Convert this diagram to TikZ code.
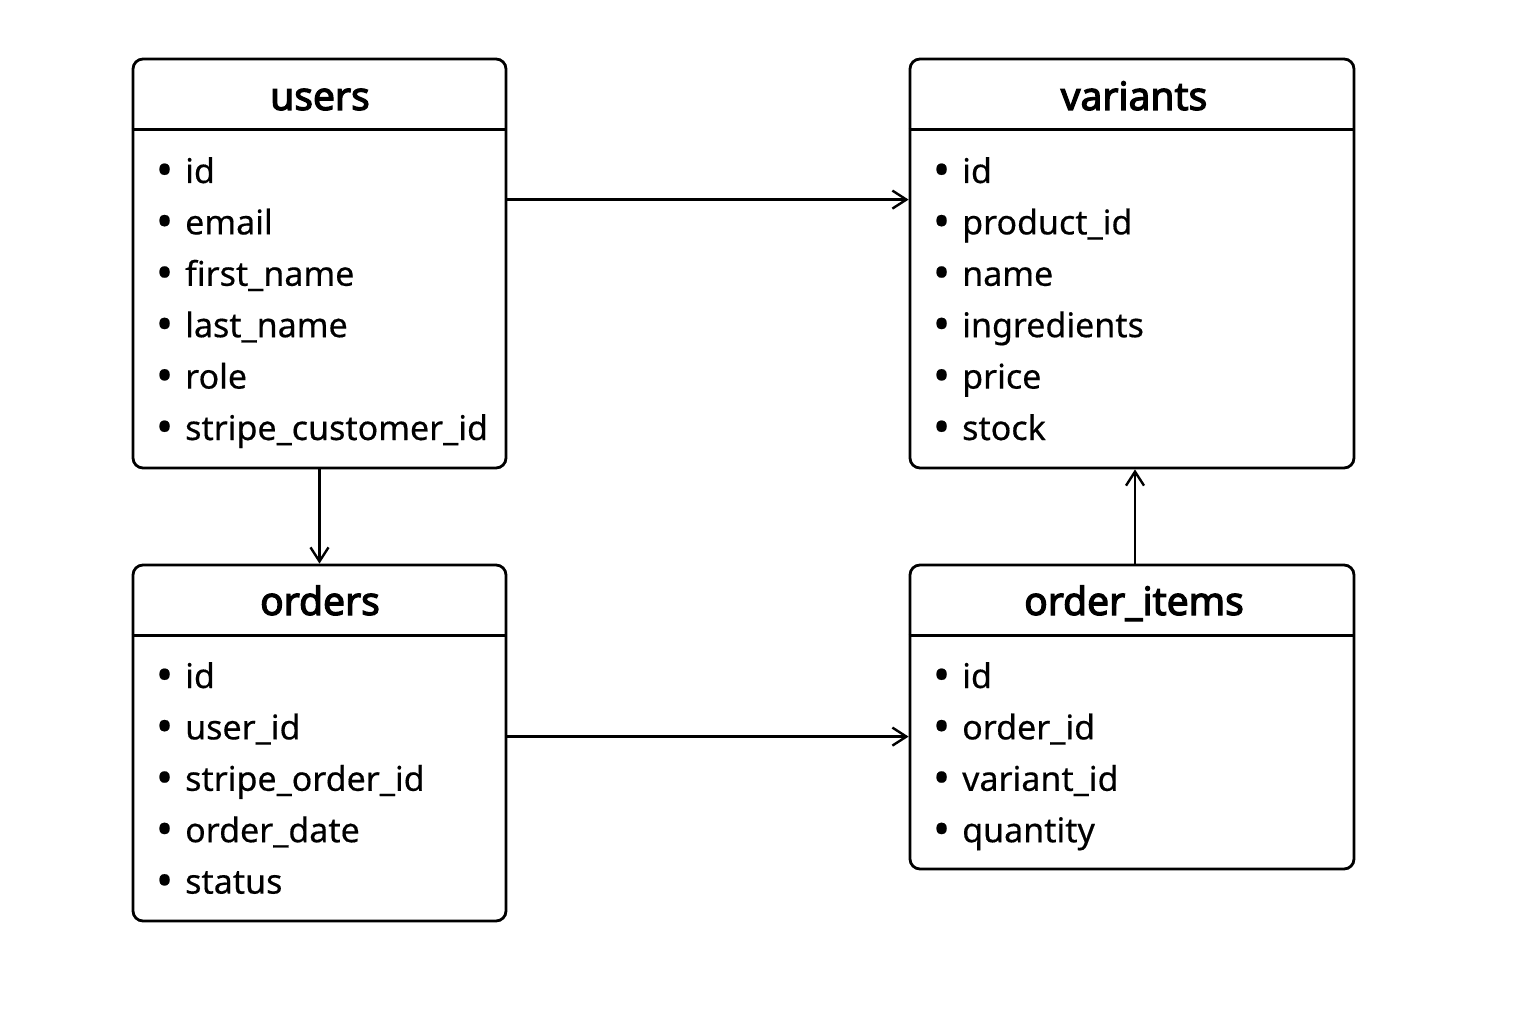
\documentclass[tikz,border=0pt]{standalone}
\usepackage{fontspec}
\usepackage{graphicx}
\setmainfont{Noto Sans}[FakeBold=0.4]
\newfontfamily\ttlfont{Noto Sans}[FakeBold=3]
\usetikzlibrary{arrows.meta}
\newcommand{\fbullet}{\llap{\raisebox{-3pt}{\scalebox{1.35}{•}}\hspace{12pt}}}
\begin{document}
\begin{tikzpicture}[x=1pt,y=-1pt,
  tbl/.style={draw, line width=2.8pt, rounded corners=10pt, inner sep=0pt},
  ttl/.style={font=\fontsize{39}{44}\ttlfont, anchor=base, inner sep=0pt},
  fld/.style={font=\fontsize{34}{40}\selectfont, anchor=base west, inner sep=0pt},
  hdr/.style={line width=2.8pt},
  arr/.style={line width=2.4pt, -{Straight Barb[length=14pt,width=18pt,line width=2.4pt]}}]
\path[use as bounding box, fill=white] (0,0) rectangle (1536,1024);

% boxes
\node[tbl, minimum width=373pt, minimum height=409pt] (users) at (319.5,263.5) {};
\node[tbl, minimum width=444pt, minimum height=409pt] (variants) at (1132,263.5) {};
\node[tbl, minimum width=373pt, minimum height=356pt] (orders) at (319.5,743) {};
\node[tbl, minimum width=444pt, minimum height=304pt] (orderitems) at (1132,717) {};

% header separators
\foreach \b in {users,variants,orders,orderitems}
  \draw[hdr] ([yshift=-72pt]\b.north west) -- ([yshift=-72pt]\b.north east);

% titles
\node[ttl] (usersT) at (320,110) {users};
\node[ttl] (variantsT) at (1134,110) {variants};
\node[ttl] (ordersT) at (320,615) {orders};
\node[ttl] (orderitemsT) at (1134,615) {order\_items};

% fields
\foreach \t [count=\i] in {id,email,first\_name,last\_name,role,stripe\_customer\_id}
  \node[fld] (users-\i) at (185,{183+51.4*(\i-1)}) {\fbullet\t};
\foreach \t [count=\i] in {id,product\_id,name,ingredients,price,stock}
  \node[fld] (variants-\i) at (962,{183+51.4*(\i-1)}) {\fbullet\t};
\foreach \t [count=\i] in {id,user\_id,stripe\_order\_id,order\_date,status}
  \node[fld] (orders-\i) at (185,{688+51.4*(\i-1)}) {\fbullet\t};
\foreach \t [count=\i] in {id,order\_id,variant\_id,quantity}
  \node[fld] (orderitems-\i) at (962,{688+51.4*(\i-1)}) {\fbullet\t};

% connectors
\draw[arr] ([yshift=-142pt]users.north east) -- ([yshift=-142pt]variants.north west);
\draw[arr] (users.south) -- (orders.north);
\draw[arr] ([yshift=-173pt]orders.north east) -- ([yshift=-173pt]orderitems.north west);
\draw[arr] ([xshift=3pt]orderitems.north) -- ([xshift=3pt]variants.south);
\end{tikzpicture}
\end{document}
